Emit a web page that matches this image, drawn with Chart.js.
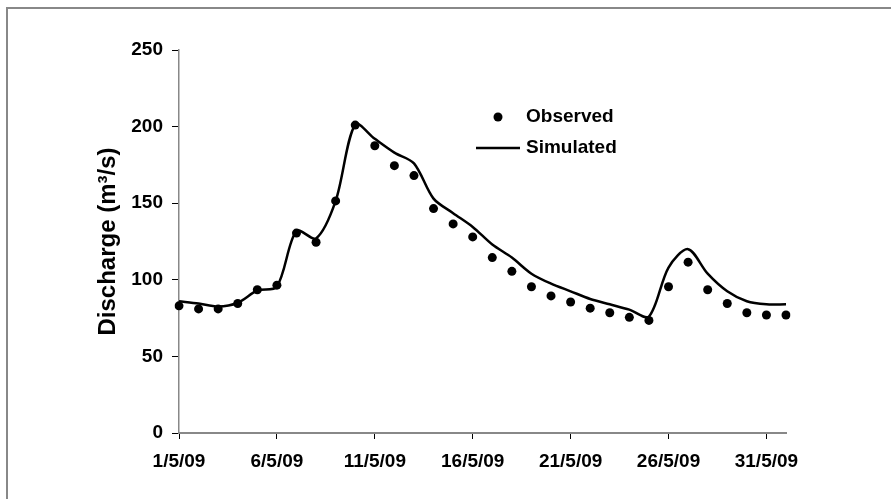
<!DOCTYPE html>
<html>
<head>
<meta charset="utf-8">
<script src="https://cdn.jsdelivr.net/npm/chart.js@4.4.1/dist/chart.umd.min.js"></script>
<style>
  html, body { margin: 0; padding: 0; background: #fff; }
  #frame { position: absolute; left: 6px; top: 7px; width: 900px; height: 500px; border: 2px solid #888; box-sizing: border-box; }
  #wrap { position: absolute; left: 0; top: 0; width: 891px; height: 499px; }
</style>
</head>
<body>
<div id="frame"></div>
<div id="wrap"><canvas id="chart" width="891" height="499"></canvas></div>
<script>
// dates, one per day (1 May 2009 - 1 June 2009)
const dates = [
  "1/5/09", "2/5/09", "3/5/09", "4/5/09", "5/5/09", "6/5/09", "7/5/09", "8/5/09",
  "9/5/09", "10/5/09", "11/5/09", "12/5/09", "13/5/09", "14/5/09", "15/5/09", "16/5/09",
  "17/5/09", "18/5/09", "19/5/09", "20/5/09", "21/5/09", "22/5/09", "23/5/09", "24/5/09",
  "25/5/09", "26/5/09", "27/5/09", "28/5/09", "29/5/09", "30/5/09", "31/5/09", "1/6/09"
];

// observed discharge (m3/s)
const observed = [
  83, 81, 81, 84.5, 93.5, 96.5, 130.5, 124.5,
  151.5, 201, 187.5, 174.5, 168, 146.5, 136.5, 128,
  114.5, 105.5, 95.5, 89.5, 85.5, 81.5, 78.5, 75.5,
  73.5, 95.5, 111.5, 93.5, 84.5, 78.5, 77, 77
];

// simulated discharge (m3/s)
const simulated = [
  86, 84.5, 82.5, 85, 93, 95.5, 132, 127,
  151.5, 201.5, 192, 183, 176, 153, 143.5, 134.5,
  123, 114.5, 104, 97.5, 92.5, 87.5, 84, 80.5,
  76, 108, 120, 104, 92.5, 86, 84, 84
];

// only every 5th date gets a label and tick mark
const labelEvery = 5;

const FONT = "'Liberation Sans', Arial, sans-serif";

//legend drawn inside the plot, like the original
const legendPlugin = {
  id: "insideLegend",
  afterDraw(chart) {
    const ctx = chart.ctx;
    ctx.save();
    ctx.fillStyle = "#000";
    ctx.strokeStyle = "#000";
    ctx.font = "bold 19px " + FONT;
    ctx.textBaseline = "alphabetic";
    ctx.textAlign = "left";
    //Observed
    ctx.beginPath();
    ctx.arc(498, 117, 4.5, 0, Math.PI * 2);
    ctx.fill();
    ctx.fillText(chart.data.datasets[0].label, 526, 122);
    //Simulated
    ctx.lineWidth = 2.5;
    ctx.beginPath();
    ctx.moveTo(476, 148);
    ctx.lineTo(520, 148);
    ctx.stroke();
    ctx.fillText(chart.data.datasets[1].label, 526, 153);
    ctx.restore();
  },
};

const chart = new Chart(document.getElementById("chart"), {
  type: "line",
  plugins: [legendPlugin],
  data: {
    labels: dates,
    datasets: [
      {
        label: "Observed",
        data: observed,
        showLine: false,
        pointRadius: 4.5,
        pointBackgroundColor: "#000",
        pointBorderColor: "#000",
        pointBorderWidth: 0,
      },
      {
        label: "Simulated",
        data: simulated,
        borderColor: "#000",
        borderWidth: 2.5,
        pointRadius: 0,
        tension: 0.3,
      },
    ],
  },
  options: {
    responsive: false,
    animation: false,
    layout: { padding: { left: 0, top: 50, right: 105, bottom: 0 } },
    plugins: {
      legend: { display: false },
      tooltip: { enabled: false },
    },
    scales: {
      x: {
        type: "category",
        offset: false,
        afterFit: (s) => { s.height = 66; },
        border: { color: "#888", width: 2 },
        grid: {
          drawOnChartArea: false,
          tickLength: 6,
          tickWidth: 1,
          tickColor: (c) => (c.index % labelEvery === 0 && c.index < dates.length - 1 ? "#000" : "rgba(0,0,0,0)"),
        },
        ticks: {
          autoSkip: false,
          maxRotation: 0,
          color: "#000",
          padding: 11,
          font: { family: FONT, size: 19, weight: "bold" },
          callback: (v, i) => (i % labelEvery === 0 && i < dates.length - 1 ? dates[i] : ""),
        },
      },
      y: {
        min: 0,
        max: 250,
        afterFit: (s) => { s.width = 179; },
        border: { color: "#888", width: 1.5 },
        grid: { drawOnChartArea: false, tickLength: 7, tickWidth: 1, tickColor: "#000" },
        ticks: {
          stepSize: 50,
          color: "#000",
          padding: 9,
          font: { family: FONT, size: 19, weight: "bold" },
        },
        title: {
          display: true,
          text: "Discharge (m³/s)",
          color: "#000",
          font: { family: FONT, size: 24, weight: "bold" },
          padding: { top: 94, bottom: 0 },
        },
      },
    },
  },
});
</script>
</body>
</html>
